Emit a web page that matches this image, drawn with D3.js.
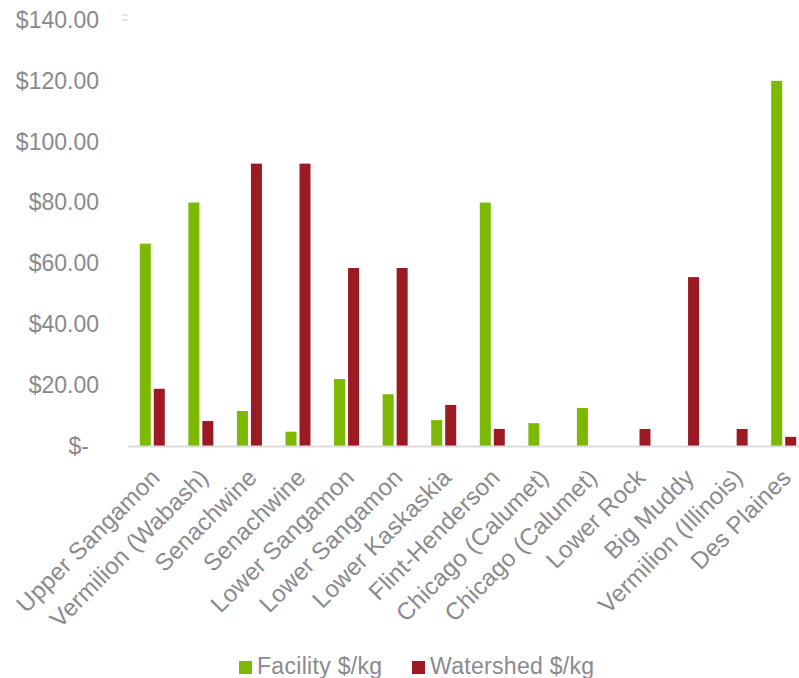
<!DOCTYPE html>
<html>
<head>
<meta charset="utf-8">
<script src="https://cdn.jsdelivr.net/npm/d3@7"></script>
<style>
  html, body { margin: 0; padding: 0; background: #fff; overflow: hidden; }
  text { font-family: "Liberation Sans", Arial, sans-serif; fill: #8a8a8e; }
</style>
</head>
<body>
<svg id="chart" width="799" height="678"></svg>
<script>
const categories = ["Upper Sangamon", "Vermilion (Wabash)", "Senachwine", "Senachwine",
  "Lower Sangamon", "Lower Sangamon", "Lower Kaskaskia", "Flint-Henderson",
  "Chicago (Calumet)", "Chicago (Calumet)", "Lower Rock", "Big Muddy",
  "Vermilion (Illinois)", "Des Plaines"];
const facility  = [66.5, 80, 11.5, 4.7, 22, 17, 8.5, 80, 7.5, 12.5, 0, 0, 0, 120];
const watershed = [18.8, 8.2, 92.8, 92.8, 58.5, 58.5, 13.5, 5.6, 0, 0, 5.6, 55.5, 5.6, 3.0];
const seriesNames = ["Facility $/kg", "Watershed $/kg"];
const seriesColors = ["#7cb900", "#9b1a24"];
const yTicks = [0, 20, 40, 60, 80, 100, 120, 140];
const yTickLabels = ["$-", "$20.00", "$40.00", "$60.00", "$80.00", "$100.00", "$120.00", "$140.00"];

const svg = d3.select("#chart");
const idx = d3.range(categories.length);

const x = d3.scaleBand().domain(idx).range([128, 808]).padding(0);
const groupW = 25;
const xInner = d3.scaleBand().domain([0, 1]).range([0, groupW]).paddingInner(3 / 14).paddingOuter(0);
const y = d3.scaleLinear().domain([0, 140]).range([446, 20]);

// Y axis labels
const yAxis = d3.axisLeft(y).tickValues(yTicks).tickSize(0).tickPadding(0)
  .tickFormat((d, i) => yTickLabels[i]);
const gy = svg.append("g").attr("transform", "translate(99,0)").call(yAxis);
gy.select(".domain").remove();
gy.selectAll("text")
  .attr("font-size", "23px")
  .attr("font-family", "Liberation Sans, Arial, sans-serif")
  .attr("fill", "#8a8a8e")
  .attr("dx", d => d === 0 ? -10 : 0);

// small artifact marks at top
svg.append("g").selectAll("line").data([15, 20]).join("line")
  .attr("x1", 122).attr("x2", 128).attr("y1", d => d).attr("y2", d => d)
  .attr("stroke", "#dedede").attr("stroke-width", 1.5);

// bars
const series = [facility, watershed];
const groups = svg.append("g").selectAll("g").data(idx).join("g")
  .attr("transform", i => `translate(${x(i) + (x.bandwidth() - groupW) / 2},0)`);
groups.selectAll("rect")
  .data(i => series.map((s, k) => ({ k, v: s[i] })).filter(d => d.v > 0))
  .join("rect")
  .attr("x", d => xInner(d.k))
  .attr("width", xInner.bandwidth())
  .attr("y", d => y(d.v))
  .attr("height", d => y(0) - y(d.v) + 0.5)
  .attr("fill", d => seriesColors[d.k]);

// baseline axis
svg.append("line")
  .attr("x1", x.range()[0]).attr("x2", 799)
  .attr("y1", y(0) + 0.5).attr("y2", y(0) + 0.5)
  .attr("stroke", "#dcdcdc").attr("stroke-width", 2.2);

// x labels
const xAxis = d3.axisBottom(x).tickSize(0).tickFormat(i => categories[i]);
const gx = svg.append("g").attr("transform", `translate(0,${y(0)})`).call(xAxis);
gx.select(".domain").remove();
gx.selectAll("text")
  .attr("font-size", "24px")
  .attr("font-family", "Liberation Sans, Arial, sans-serif")
  .attr("fill", "#8a8a8e")
  .attr("letter-spacing", "0.2px")
  .attr("text-anchor", "end")
  .attr("dy", 0)
  .attr("y", 0)
  .attr("transform", "translate(9,33) rotate(-45)");

// legend
const legend = svg.append("g");
const legX = [239, 412];
seriesNames.forEach((name, k) => {
  legend.append("rect").attr("x", legX[k]).attr("y", 661).attr("width", 13).attr("height", 13)
    .attr("fill", seriesColors[k]);
  legend.append("text").attr("x", legX[k] + 18).attr("y", 674)
    .attr("font-size", "23px").attr("letter-spacing", "0.3px").text(name);
});
</script>
</body>
</html>
